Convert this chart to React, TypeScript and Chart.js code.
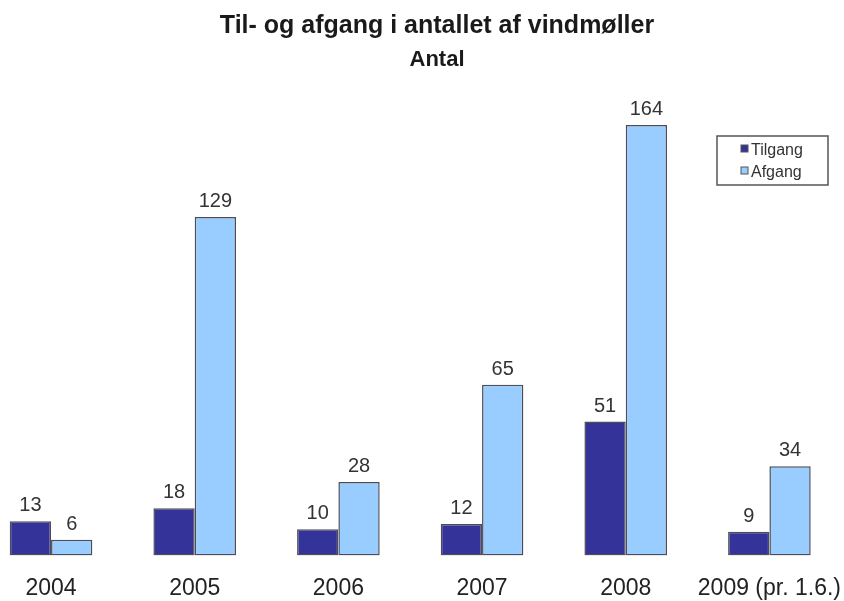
import React, { useEffect, useRef } from "react";
import { Chart, registerables } from "chart.js";

Chart.register(...registerables);

const categories = ["2004", "2005", "2006", "2007", "2008", "2009 (pr. 1.6.)"];
const tilgang = [13, 18, 10, 12, 51, 9];
const afgang = [6, 129, 28, 65, 164, 34];
const seriesNames = ["Tilgang", "Afgang"];
const seriesColors = ["#333399", "#99CCFF"];
const titleText = "Til- og afgang i antallet af vindmøller";
const subtitleText = "Antal";

const FONT = "Arial, 'Liberation Sans', sans-serif";
const OFFSET_X = 40;
const CANVAS_W = 900;
const CANVAS_H = 621;

const overlayPlugin = {
  id: "overlay",
  afterDatasetsDraw(chart: any) {
    const ctx = chart.ctx as CanvasRenderingContext2D;
    ctx.save();
    // value labels
    ctx.font = `20px ${FONT}`;
    ctx.fillStyle = "#333333";
    ctx.textAlign = "center";
    ctx.textBaseline = "alphabetic";
    chart.data.datasets.forEach((ds: any, i: number) => {
      const meta = chart.getDatasetMeta(i);
      meta.data.forEach((bar: any, j: number) => {
        ctx.fillText(String(ds.data[j]), bar.x, bar.y - 10);
      });
    });
    // title + subtitle
    const cx = 437 + OFFSET_X;
    ctx.fillStyle = "#1a1a1a";
    ctx.font = `bold 25px ${FONT}`;
    ctx.fillText(titleText, cx, 33);
    ctx.font = `bold 22px ${FONT}`;
    ctx.fillText(subtitleText, cx, 66);
    // legend box
    const bx = 717 + OFFSET_X;
    const by = 136;
    ctx.strokeStyle = "#555555";
    ctx.lineWidth = 1.5;
    ctx.strokeRect(bx, by, 111, 49);
    ctx.font = `16px ${FONT}`;
    ctx.textAlign = "left";
    const rows = [155, 177];
    seriesNames.forEach((name, i) => {
      const y = rows[i];
      ctx.fillStyle = seriesColors[i];
      ctx.fillRect(741 + OFFSET_X, y - 10, 7, 7);
      ctx.strokeStyle = "#555555";
      ctx.lineWidth = 1;
      ctx.strokeRect(741 + OFFSET_X, y - 10, 7, 7);
      ctx.fillStyle = "#333333";
      ctx.fillText(name, 751 + OFFSET_X, y);
    });
    ctx.restore();
  },
};

export default function App() {
  const canvasRef = useRef<HTMLCanvasElement | null>(null);

  useEffect(() => {
    if (!canvasRef.current) return;
    const chart = new Chart(canvasRef.current, {
      type: "bar",
      data: {
        labels: categories,
        datasets: [
          {
            label: seriesNames[0],
            data: tilgang,
            backgroundColor: seriesColors[0],
            borderColor: "#4d4d5a",
            borderWidth: 1.5,
            borderSkipped: false,
          },
          {
            label: seriesNames[1],
            data: afgang,
            backgroundColor: seriesColors[1],
            borderColor: "#4d4d5a",
            borderWidth: 1.5,
            borderSkipped: false,
          },
        ],
      },
      options: {
        animation: false,
        responsive: false,
        devicePixelRatio: 1,
        layout: { padding: { left: 19.2, right: 0, top: 91, bottom: 0 } },
        datasets: { bar: { categoryPercentage: 0.575, barPercentage: 1.0 } },
        plugins: {
          legend: { display: false },
          title: { display: false },
          tooltip: { enabled: false },
        },
        scales: {
          x: {
            grid: { display: false, drawTicks: false },
            border: { display: false },
            ticks: {
              autoSkip: false,
              maxRotation: 0,
              padding: 19,
              color: "#222222",
              font: { family: FONT, size: 23 },
            },
          },
          y: {
            display: false,
            min: 0,
            max: 177,
          },
        },
      },
      plugins: [overlayPlugin],
    });
    return () => chart.destroy();
  }, []);

  return (
    <div
      style={{
        position: "fixed",
        left: -OFFSET_X,
        top: 0,
        width: CANVAS_W,
        height: CANVAS_H,
        background: "#ffffff",
      }}
    >
      <canvas
        ref={canvasRef}
        width={CANVAS_W}
        height={CANVAS_H}
        style={{ display: "block", width: CANVAS_W, height: CANVAS_H }}
      />
    </div>
  );
}
